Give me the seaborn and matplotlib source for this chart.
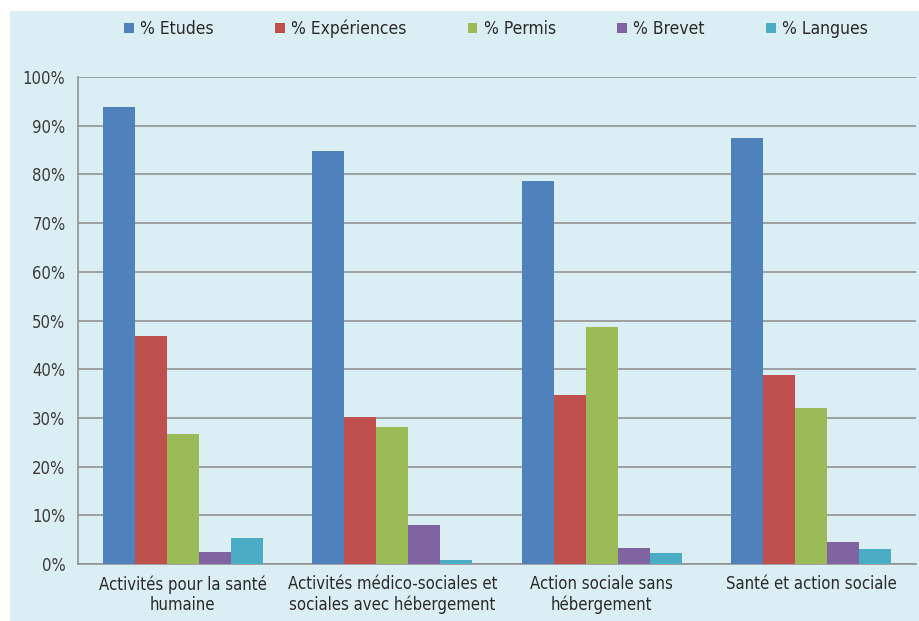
import matplotlib
matplotlib.use("Agg")
import matplotlib.pyplot as plt
from matplotlib.patches import Rectangle, Patch
from matplotlib.ticker import MultipleLocator, FuncFormatter
import seaborn as sns
import pandas as pd

categories = [
    "Activités pour la santé\nhumaine",
    "Activités médico-sociales et\nsociales avec hébergement",
    "Action sociale sans\nhébergement",
    "Santé et action sociale",
]
series = ["% Etudes", "% Expériences", "% Permis", "% Brevet", "% Langues"]
etudes = [93.8, 84.8, 78.6, 87.5]
experiences = [46.8, 30.2, 34.7, 38.8]
permis = [26.7, 28.1, 48.7, 32.0]
brevet = [2.5, 8.0, 3.3, 4.6]
langues = [5.3, 0.8, 2.3, 3.1]
colors = ["#4F81BD", "#C0504D", "#9BBB59", "#8064A2", "#4BACC6"]

rows = []
for name, vals in zip(series, [etudes, experiences, permis, brevet, langues]):
    for cat, v in zip(categories, vals):
        rows.append({"Secteur": cat, "Critère": name, "Part": v})
df = pd.DataFrame(rows)

sns.set_theme(style="white")
plt.rcParams["font.family"] = ["DejaVu Sans"]
plt.rcParams["font.stretch"] = "condensed"

W, H = 919, 621
fig = plt.figure(figsize=(W / 100, H / 100), dpi=100)
fig.patch.set_facecolor("white")
bg = "#DBEEF3"
fig.patches.append(Rectangle((10 / W, 0), 1, 1 - 11 / H, transform=fig.transFigure,
                             facecolor=bg, edgecolor="none", zorder=-10))

ax = fig.add_axes([78 / W, 1 - 564 / H, (916 - 78) / W, (564 - 77) / H])
ax.set_facecolor(bg)
ax.patch.set_alpha(0)

sns.barplot(data=df, x="Secteur", y="Part", hue="Critère", order=categories,
            hue_order=series, palette=colors, width=0.765, gap=0,
            saturation=1, linewidth=0, ax=ax, legend=False, zorder=3)

ax.set_ylim(0, 100)
ax.set_xlim(-0.5, len(categories) - 0.5)
ax.yaxis.set_major_locator(MultipleLocator(10))
ax.yaxis.set_major_formatter(FuncFormatter(lambda v, p: f"{v:.0f}%"))
ax.grid(axis="y", color="#939393", linewidth=1.2, zorder=1)
ax.set_axisbelow(True)
ax.set_xlabel("")
ax.set_ylabel("")

for s in ["top", "right"]:
    ax.spines[s].set_visible(False)
for s in ["left", "bottom"]:
    ax.spines[s].set_color("#939393")
    ax.spines[s].set_linewidth(1.2)

# category boundaries as tick marks on the x axis
ax.set_xticks([i - 0.5 for i in range(len(categories) + 1)], minor=True)
ax.set_xticks(range(len(categories)))
ax.set_xticklabels(categories, fontsize=12, color="#2A2A2A", linespacing=1.15)
ax.tick_params(axis="x", which="major", length=0, pad=8)
ax.tick_params(axis="x", which="minor", length=6, width=1.2, color="#939393", direction="out")
ax.tick_params(axis="y", length=6, width=1.2, color="#939393", direction="out",
               labelsize=12, labelcolor="#3A3A3A", pad=3)

handles = [Patch(facecolor=c, edgecolor="none", label=s) for c, s in zip(colors, series)]
fig.legend(handles=handles, loc="center", bbox_to_anchor=(496 / W, 1 - 29 / H),
           ncol=5, frameon=False, fontsize=12.5, handlelength=0.55, handleheight=0.55,
           handletextpad=0.35, columnspacing=3.55, labelcolor="#2A2A2A")

fig.savefig("out.png", dpi=100, facecolor="white")
